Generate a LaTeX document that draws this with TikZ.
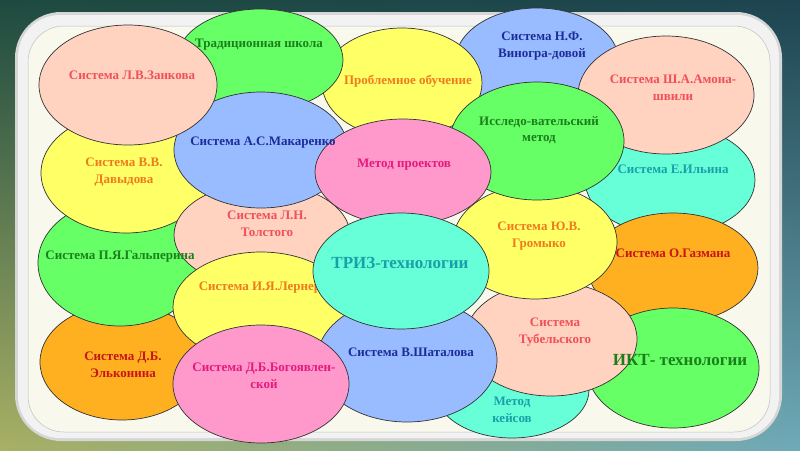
\documentclass[tikz,border=0pt]{standalone}
\usepackage{fontspec}
\setmainfont{Liberation Serif}
\usetikzlibrary{shapes.geometric,shadings}
\definecolor{gF}{HTML}{66FF66}\definecolor{gT}{HTML}{1B7F1B}
\definecolor{pF}{HTML}{FFD3C0}\definecolor{pT}{HTML}{F0505A}
\definecolor{yF}{HTML}{FFFF66}\definecolor{yT}{HTML}{F07A1E}
\definecolor{bF}{HTML}{99BBFF}\definecolor{bT}{HTML}{1C2D9A}
\definecolor{mF}{HTML}{FF99CC}\definecolor{mT}{HTML}{E6197D}
\definecolor{cF}{HTML}{66FFD8}\definecolor{cT}{HTML}{1AA0A8}
\definecolor{oF}{HTML}{FFB020}\definecolor{oT}{HTML}{C81414}
\definecolor{bgUL}{HTML}{1D4A40}\definecolor{bgUR}{HTML}{1D4450}
\definecolor{bgLL}{HTML}{A8B064}\definecolor{bgLR}{HTML}{6FAAB8}
\definecolor{frameOut}{HTML}{D6D6D6}\definecolor{frameMid}{HTML}{F2F2F2}
\definecolor{frameIn}{HTML}{F8F8EC}
\tikzset{
  blob/.style={ellipse, draw=black!80, line width=0.7pt, inner sep=0pt},
  lbl/.style={font=\fontsize{13}{16.5}\selectfont\bfseries, align=center, inner sep=0pt},
  big/.style={font=\fontsize{17}{20}\selectfont\bfseries, align=center, inner sep=0pt}
}
\newcommand{\blob}[6]{\node[blob, fill=#1, minimum width=#5pt, minimum height=#6pt] (#2) at (#3,#4) {};}
\begin{document}
\begin{tikzpicture}[x=1pt,y=-1pt]
\useasboundingbox (0,0) rectangle (800,450);
\shade[upper left=bgUL, upper right=bgUR, lower left=bgLL, lower right=bgLR] (0,0) rectangle (800,450);
\fill[frameOut, rounded corners=46pt] (15,12) rectangle (782,441);
\fill[frameMid, rounded corners=42pt] (18,15) rectangle (779,438);
\fill[frameIn, draw=black!25, line width=0.5pt, rounded corners=36pt] (28,26) rectangle (770,432);
% ellipses, back to front
\blob{bF}{vin}{537}{62}{164}{108}
\blob{yF}{prob}{402}{83}{160}{110}
\blob{gF}{trad}{260}{60}{166}{102}
\blob{cF}{ilin}{670}{180}{170}{110}
\blob{oF}{elk}{122}{362}{164}{116}
\blob{gF}{gal}{120}{263}{164}{126}
\blob{yF}{dav}{126}{173}{170}{120}
\blob{pF}{tol}{262}{235}{176}{104}
\blob{yF}{ler}{261}{307}{176}{110}
\blob{bF}{mak}{261}{150}{174}{116}
\blob{pF}{zan}{128}{85}{178}{120}
\blob{pF}{amo}{666}{95}{176}{118}
\blob{oF}{gaz}{673}{268}{170}{110}
\blob{cF}{kei}{512}{390}{154}{96}
\blob{gF}{ikt}{673}{368}{172}{120}
\blob{pF}{tub}{551}{339}{172}{114}
\blob{yF}{gro}{535}{242}{164}{114}
\blob{gF}{iss}{537}{141}{174}{118}
\blob{mF}{pro}{403}{172}{176}{106}
\blob{bF}{sha}{407}{360}{180}{124}
\node[lbl, text=yT] (tler) at (260,288) {Система И.Я.Лернер};
\blob{cF}{triz}{401}{271}{176}{116}
\blob{mF}{bog}{261}{384}{176}{118}
% labels
\node[lbl, text=bT] (tvin) at (542,46) {Система Н.Ф.\\Виногра-довой};
\node[lbl, text=yT] (tprob) at (408,81) {Проблемное обучение};
\node[lbl, text=gT] (ttrad) at (259,45) {Традиционная школа};
\node[lbl, text=cT] (tilin) at (673,169) {Система Е.Ильина};
\node[lbl, text=oT] (telk) at (123,365) {Система Д.Б.\\Эльконина};
\node[lbl, text=gT] (tgal) at (120,257) {Система П.Я.Гальперина};
\node[lbl, text=yT] (tdav) at (124,172) {Система В.В.\\Давыдова};
\node[lbl, text=pT] (ttol) at (267,224) {Система Л.Н.\\Толстого};
\node[lbl, text=bT] (tmak) at (263,143) {Система А.С.Макаренко};
\node[lbl, text=pT] (tzan) at (132,75) {Система Л.В.Занкова};
\node[lbl, text=pT] (tamo) at (673,88) {Система Ш.А.Амона-\\швили};
\node[lbl, text=oT] (tgaz) at (673,253) {Система О.Газмана};
\node[lbl, text=cT] (tkei) at (512,410) {Метод\\кейсов};
\node[big, text=gT] (tikt) at (680,360) {ИКТ- технологии};
\node[lbl, text=pT] (ttub) at (555,332) {Система\\Тубельского};
\node[lbl, text=yT] (tgro) at (539,236) {Система Ю.В.\\Громыко};
\node[lbl, text=gT] (tiss) at (539,130) {Исследо-вательский\\метод};
\node[lbl, text=mT] (tpro) at (404,165) {Метод проектов};
\node[lbl, text=bT] (tsha) at (411,352) {Система В.Шаталова};
\node[big, text=cT] (ttriz) at (400,263) {ТРИЗ-технологии};
\node[lbl, text=mT] (tbog) at (264,376) {Система Д.Б.Богоявлен-\\ской};
\end{tikzpicture}
\end{document}
